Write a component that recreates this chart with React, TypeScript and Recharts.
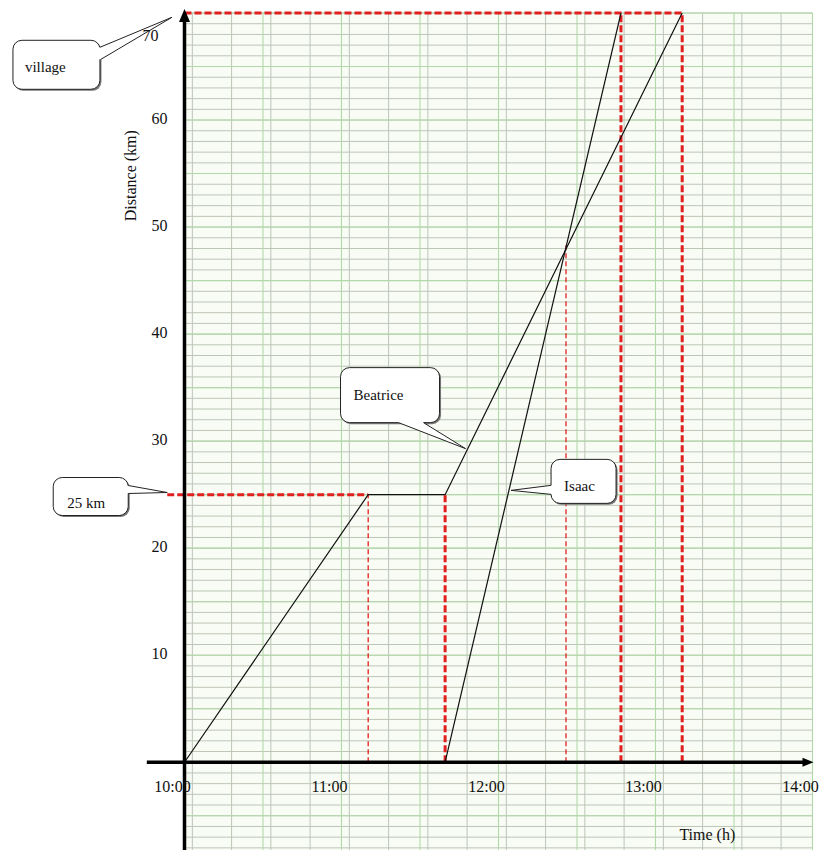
import React from 'react';
import { ComposedChart, Line, XAxis, YAxis, CartesianGrid, ReferenceLine, ReferenceDot } from 'recharts';

// ---- data ----
const beatriceTime = [10, 11.17, 11.66, 13.17];
const beatriceDist = [0, 25, 25, 70];
const isaacTime = [11.66, 12.78];
const isaacDist = [0, 70];
const hourValues = [10, 11, 12, 13, 14];
const hourLabels = ['10:00', '11:00', '12:00', '13:00', '14:00'];
const distTicks = [10, 20, 30, 40, 50, 60, 70];
const villageDist = 70;
const restDist = 25;
const meetTime = 12.43;
const meetDist = 48.3;

const beatriceData = beatriceTime.map((t, i) => ({ t, d: beatriceDist[i] }));
const isaacData = isaacTime.map((t, i) => ({ t, d: isaacDist[i] }));

// ---- layout / style ----
const W = 827;
const H = 850;
const X_DOMAIN = [10, 14];
const Y_DOMAIN = [-8.2, 70];
const FONT = '"Liberation Serif", "Times New Roman", serif';
const RED = '#e01f1f';

const minorV = Array.from({ length: 81 }, (_, i) => 10 + i * 0.05);
const minorH = Array.from({ length: 79 }, (_, i) => -8 + i);
const majorV = Array.from({ length: 9 }, (_, i) => 10 + i * 0.5);
const majorH = Array.from({ length: 16 }, (_, i) => -5 + i * 5);

type Seg = { x1: number; y1: number; x2: number; y2: number; thick: boolean };
const guides: Seg[] = [
  { x1: beatriceTime[0], y1: villageDist, x2: beatriceTime[3], y2: villageDist, thick: true },
  { x1: 9.89, y1: restDist, x2: beatriceTime[1], y2: restDist, thick: true },
  { x1: beatriceTime[1], y1: 0, x2: beatriceTime[1], y2: restDist, thick: false },
  { x1: beatriceTime[2], y1: 0, x2: beatriceTime[2], y2: restDist, thick: true },
  { x1: meetTime, y1: 0, x2: meetTime, y2: meetDist, thick: false },
  { x1: isaacTime[1], y1: 0, x2: isaacTime[1], y2: villageDist, thick: true },
  { x1: beatriceTime[3], y1: 0, x2: beatriceTime[3], y2: villageDist, thick: true },
];

type CalloutSpec = {
  text: string;
  at: [number, number];
  box: [number, number, number, number];
  a: [number, number];
  b: [number, number];
  inward: [number, number];
  textPos: [number, number];
};
const callouts: CalloutSpec[] = [
  { text: 'village', at: [9.92, 69.6], box: [-159, 23, 87, 49], a: [-72, 30], b: [-71, 42], inward: [-3, 0], textPos: [-147, 55] },
  { text: '25 km', at: [9.89, 25.2], box: [-114, -15, 75, 38], a: [-39, -7], b: [-39, 1], inward: [-3, 0], textPos: [-100, 15] },
  { text: 'Beatrice', at: [11.79, 29.3], box: [-125, -81, 99, 55], a: [-67, -26], b: [-42, -26], inward: [0, -3], textPos: [-112, -49] },
  { text: 'Isaac', at: [12.08, 25.4], box: [40, -31, 65, 44], a: [40, -5], b: [40, 4], inward: [3, 0], textPos: [53, 1] },
];

const Callout = (spec: CalloutSpec) => (p: any) => {
  const { cx, cy } = p;
  const [bx, by, bw, bh] = spec.box;
  const ax = cx + spec.a[0];
  const ay = cy + spec.a[1];
  const qx = cx + spec.b[0];
  const qy = cy + spec.b[1];
  const [ix, iy] = spec.inward;
  return (
    <g>
      <rect x={cx + bx + 1.5} y={cy + by + 1.5} width={bw} height={bh} rx={9} ry={9} fill="#777" />
      <rect x={cx + bx} y={cy + by} width={bw} height={bh} rx={9} ry={9} fill="#fff" stroke="#222" strokeWidth={1} />
      <polygon points={`${ax + ix},${ay + iy} ${ax},${ay} ${cx},${cy} ${qx},${qy} ${qx + ix},${qy + iy}`} fill="#fff" stroke="none" />
      <line x1={ax} y1={ay} x2={cx} y2={cy} stroke="#222" strokeWidth={1} />
      <line x1={qx} y1={qy} x2={cx} y2={cy} stroke="#222" strokeWidth={1} />
      <text x={cx + spec.textPos[0]} y={cy + spec.textPos[1]} fontFamily={FONT} fontSize={15} fill="#111">
        {spec.text}
      </text>
    </g>
  );
};

const YTick = (props: any) => {
  const { x, y, payload } = props;
  const top = payload.value === distTicks[distTicks.length - 1];
  return (
    <text x={x + (top ? -9 : 0)} y={y + (top ? 24 : 0) + 3.5} textAnchor="end" fontFamily={FONT} fontSize={16} fill="#111">
      {payload.value}
    </text>
  );
};

const hourLabelShape = (label: string) => (p: any) => (
  <text x={p.cx - 12} y={p.cy + 30} textAnchor="middle" fontFamily={FONT} fontSize={16} fill="#111">
    {label}
  </text>
);

const rightArrow = (p: any) => (
  <polygon points={`${p.cx + 1},${p.cy} ${p.cx - 10},${p.cy - 4.5} ${p.cx - 10},${p.cy + 4.5}`} fill="#000" />
);
const upArrow = (p: any) => (
  <polygon points={`${p.cx},${p.cy - 4} ${p.cx - 5.5},${p.cy + 9} ${p.cx + 5.5},${p.cy + 9}`} fill="#000" />
);

const yTitle = (p: any) => (
  <text x={p.cx} y={p.cy} transform={`rotate(-90 ${p.cx} ${p.cy})`} textAnchor="middle" fontFamily={FONT} fontSize={16} fill="#111">
    Distance (km)
  </text>
);
const xTitle = (p: any) => (
  <text x={p.cx} y={p.cy} textAnchor="middle" fontFamily={FONT} fontSize={16} fill="#111">
    Time (h)
  </text>
);

export default function App() {
  return (
    <div style={{ position: 'absolute', left: 0, top: 0, width: W, height: H, background: '#fff' }}>
      <ComposedChart width={W} height={H} margin={{ top: 13, right: 14.5, bottom: 0, left: 0 }}>
        <XAxis type="number" dataKey="t" domain={X_DOMAIN} allowDataOverflow hide />
        <YAxis
          type="number"
          domain={Y_DOMAIN}
          allowDataOverflow
          ticks={distTicks}
          interval={0}
          width={184.5}
          axisLine={false}
          tickLine={false}
          tickSize={0}
          tickMargin={17}
          tick={YTick}
        />
        <CartesianGrid
          fill="#f9fcf5"
          stroke="#bcc6b6"
          strokeWidth={1}
          verticalValues={minorV}
          horizontalValues={minorH}
        />
        <CartesianGrid
          fill="none"
          stroke="#b2d9aa"
          strokeWidth={1.1}
          verticalValues={majorV}
          horizontalValues={majorH}
        />

        {guides.map((g, i) => (
          <ReferenceLine
            key={'g' + i}
            segment={[{ x: g.x1, y: g.y1 }, { x: g.x2, y: g.y2 }]}
            stroke={RED}
            strokeWidth={g.thick ? 3 : 1.3}
            strokeDasharray={g.thick ? '7 3' : '5 3'}
            ifOverflow="visible"
          />
        ))}

        <Line data={beatriceData} dataKey="d" type="linear" stroke="#111" strokeWidth={1.2} dot={false} isAnimationActive={false} />
        <Line data={isaacData} dataKey="d" type="linear" stroke="#111" strokeWidth={1.2} dot={false} isAnimationActive={false} />

        {/* axes through the origin */}
        <ReferenceLine segment={[{ x: 9.76, y: 0 }, { x: 13.96, y: 0 }]} stroke="#000" strokeWidth={3.5} ifOverflow="visible" />
        <ReferenceLine segment={[{ x: 10, y: -8.2 }, { x: 10, y: 69.4 }]} stroke="#000" strokeWidth={3.5} ifOverflow="visible" />
        <ReferenceDot x={14} y={0} r={0} shape={rightArrow} ifOverflow="visible" />
        <ReferenceDot x={10} y={70} r={0} shape={upArrow} ifOverflow="visible" />

        {hourValues.map((h, i) => (
          <ReferenceDot key={'h' + i} x={h} y={0} r={0} shape={hourLabelShape(hourLabels[i])} ifOverflow="visible" />
        ))}

        <ReferenceDot x={9.69} y={54.8} r={0} shape={yTitle} ifOverflow="visible" />
        <ReferenceDot x={13.33} y={-7.3} r={0} shape={xTitle} ifOverflow="visible" />

        {callouts.map((c, i) => (
          <ReferenceDot key={'c' + i} x={c.at[0]} y={c.at[1]} r={0} shape={Callout(c)} ifOverflow="visible" />
        ))}
      </ComposedChart>
    </div>
  );
}
